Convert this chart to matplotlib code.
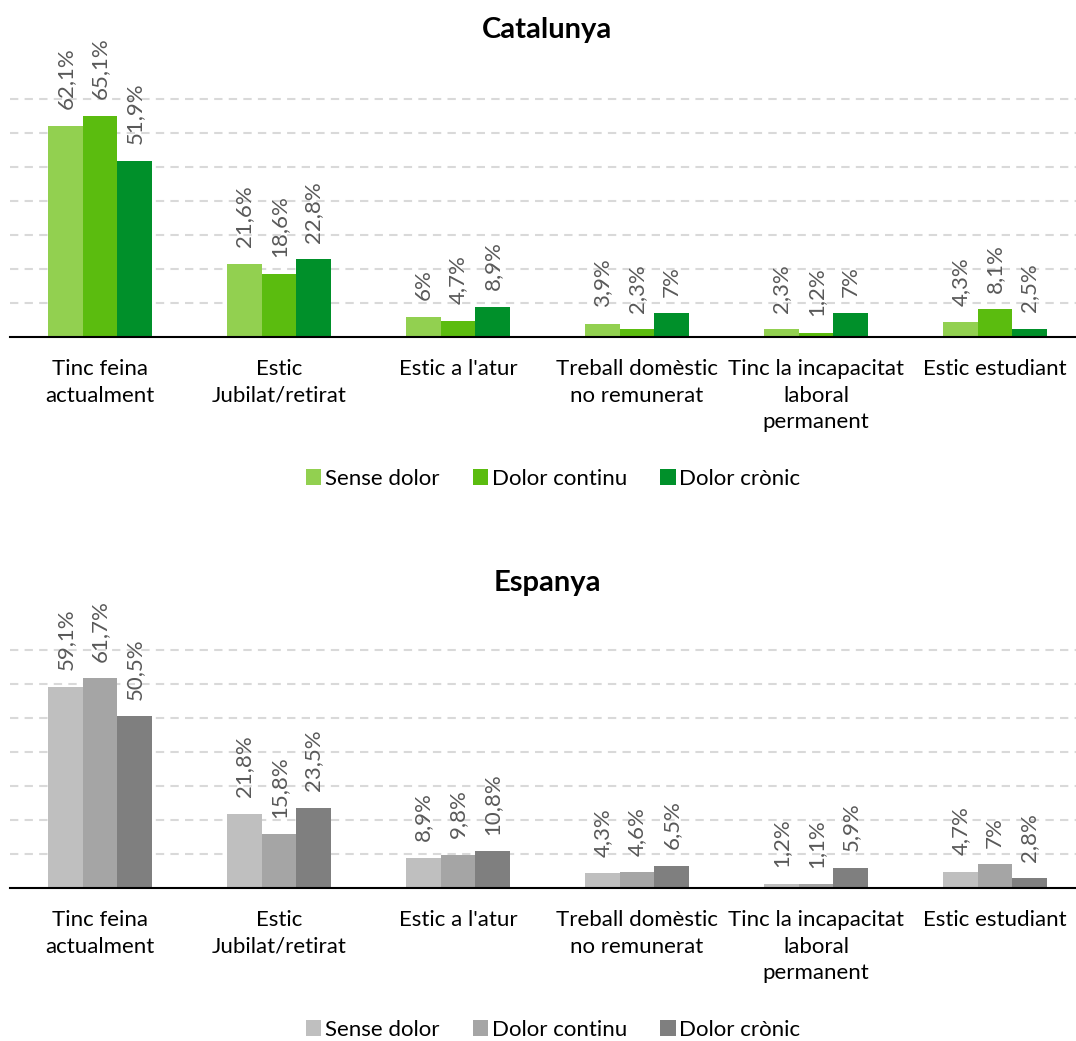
import numpy as np
import matplotlib
matplotlib.use("Agg")
import matplotlib.pyplot as plt

plt.rcParams['font.family'] = ['Lato', 'DejaVu Sans']

categories = ["Tinc feina\nactualment", "Estic\nJubilat/retirat", "Estic a l'atur",
              "Treball domèstic\nno remunerat", "Tinc la incapacitat\nlaboral\npermanent",
              "Estic estudiant"]
series = ["Sense dolor", "Dolor continu", "Dolor crònic"]

cat_sense = [62.1, 21.6, 6, 3.9, 2.3, 4.3]
cat_continu = [65.1, 18.6, 4.7, 2.3, 1.2, 8.1]
cat_cronic = [51.9, 22.8, 8.9, 7, 7, 2.5]

esp_sense = [59.1, 21.8, 8.9, 4.3, 1.2, 4.7]
esp_continu = [61.7, 15.8, 9.8, 4.6, 1.1, 7]
esp_cronic = [50.5, 23.5, 10.8, 6.5, 5.9, 2.8]

greens = ["#92D050", "#5BBC0F", "#00902A"]
greys = ["#BFBFBF", "#A5A5A5", "#7F7F7F"]

W, H = 1076, 1041
fig = plt.figure(figsize=(W / 100, H / 100), dpi=100)


def fmt(v):
    if float(v).is_integer():
        return f"{int(v)}%"
    return f"{v:.1f}".replace(".", ",") + "%"


def panel(base_px, title, title_px, legend_px, data, colors):
    ax = fig.add_axes([10 / W, 1 - base_px / H, 1 - 10 / W, 272 / H])
    x = np.arange(len(categories))
    bw = 0.193
    for i, (vals, c, name) in enumerate(zip(data, colors, series)):
        pos = x + (i - 1) * bw
        ax.bar(pos, vals, width=bw, color=c, label=name, zorder=3)
        for p, v in zip(pos, vals):
            ax.annotate(fmt(v), (p, v), xytext=(0, 12), textcoords="offset points",
                        rotation=90, ha="center", va="bottom", fontsize=16,
                        color="#595959")
    ax.set_xlim(-0.503, 5.453)
    ax.set_ylim(0, 80)
    ax.set_yticks([])
    for yv in range(10, 80, 10):
        ax.axhline(yv, color="#D9D9D9", lw=1.5, ls=(0, (4, 3)), zorder=1)
    for s in ["top", "right", "left"]:
        ax.spines[s].set_visible(False)
    ax.spines["bottom"].set_color("#000000")
    ax.spines["bottom"].set_linewidth(1.5)
    ax.spines["bottom"].set_zorder(4)
    ax.set_xticks(x)
    ax.set_xticklabels(categories, fontsize=16, color="#000000", linespacing=1.4)
    ax.tick_params(axis="x", length=0, pad=16)
    fig.text(0.5 + 9 / W, 1 - title_px / H, title, ha="center", va="center",
             fontsize=21, fontweight="bold")
    handles, labels = ax.get_legend_handles_labels()
    fig.legend(handles, labels, loc="center",
               bbox_to_anchor=(0.5 + 15 / W, 1 - legend_px / H),
               ncol=3, frameon=False, fontsize=16, handlelength=0.7, handleheight=0.7,
               handletextpad=0.15, columnspacing=1.5)
    return ax


panel(337, "Catalunya", 30, 479, [cat_sense, cat_continu, cat_cronic], greens)
panel(888, "Espanya", 583, 1030, [esp_sense, esp_continu, esp_cronic], greys)

fig.savefig("out.png", dpi=100)
